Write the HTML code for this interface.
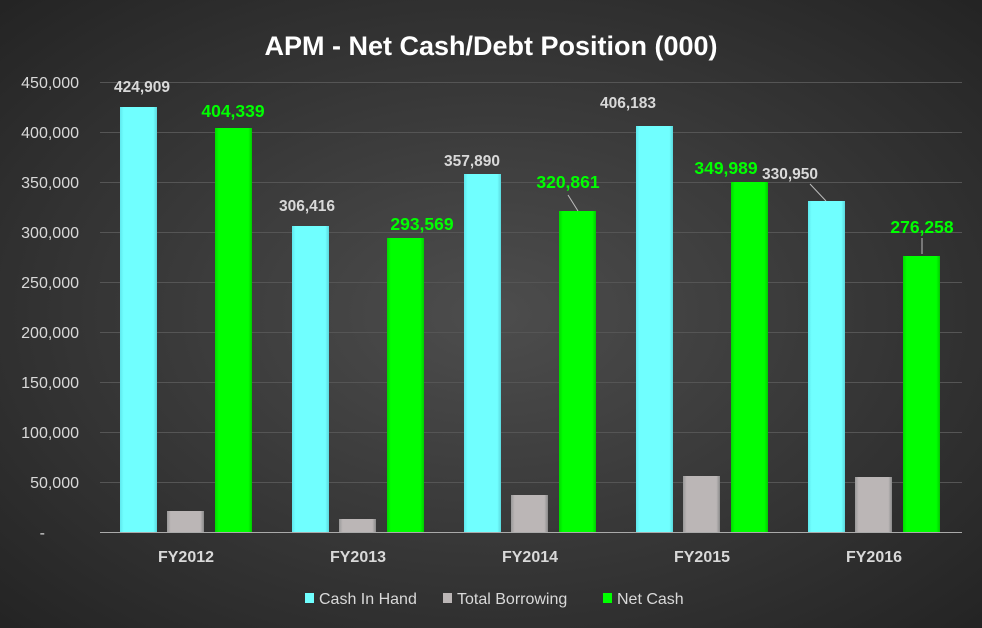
<!DOCTYPE html><html><head><style>body{margin:0;background:#333;overflow:hidden}svg{display:block}</style></head><body>
<svg width="982" height="628" xmlns="http://www.w3.org/2000/svg" font-family="Liberation Sans, sans-serif">
<defs>
<radialGradient id="bg" cx="50%" cy="50%" r="70%"><stop offset="0" stop-color="#4d4d4d"/><stop offset="1" stop-color="#242424"/></radialGradient>
<linearGradient id="cy" x1="0" x2="1"><stop offset="0" stop-color="#5fe8ee"/><stop offset="0.1" stop-color="#70ffff"/><stop offset="0.9" stop-color="#70ffff"/><stop offset="1" stop-color="#5ad8dd"/></linearGradient>
<linearGradient id="gr" x1="0" x2="1"><stop offset="0" stop-color="#00d800"/><stop offset="0.1" stop-color="#00ff00"/><stop offset="0.9" stop-color="#00ff00"/><stop offset="1" stop-color="#00cc00"/></linearGradient>
<linearGradient id="gy" x1="0" x2="1"><stop offset="0" stop-color="#999"/><stop offset="0.1" stop-color="#bbb6b6"/><stop offset="0.9" stop-color="#bbb6b6"/><stop offset="1" stop-color="#8a8a8a"/></linearGradient>
</defs>
<rect width="982" height="628" fill="url(#bg)"/>
<text x="491" y="55" text-anchor="middle" fill="#fff" font-size="27" font-weight="bold">APM - Net Cash/Debt Position (000)</text>
<g stroke="#555" stroke-width="1">
<line x1="100" x2="962" y1="82.5" y2="82.5"/><line x1="100" x2="962" y1="132.5" y2="132.5"/><line x1="100" x2="962" y1="182.5" y2="182.5"/><line x1="100" x2="962" y1="232.5" y2="232.5"/><line x1="100" x2="962" y1="282.5" y2="282.5"/><line x1="100" x2="962" y1="332.5" y2="332.5"/><line x1="100" x2="962" y1="382.5" y2="382.5"/><line x1="100" x2="962" y1="432.5" y2="432.5"/><line x1="100" x2="962" y1="482.5" y2="482.5"/>
</g>
<g fill="#d9d9d9" font-size="16" text-anchor="end">
<text x="79" y="88">450,000</text><text x="79" y="138">400,000</text><text x="79" y="188">350,000</text><text x="79" y="238">300,000</text><text x="79" y="288">250,000</text><text x="79" y="338">200,000</text><text x="79" y="388">150,000</text><text x="79" y="438">100,000</text><text x="79" y="488">50,000</text><text x="45" y="538">-</text>
</g>
<g>
<rect x="120" y="107" width="37" height="425" fill="url(#cy)"/><rect x="167" y="511" width="37" height="21" fill="url(#gy)"/><rect x="215" y="128" width="37" height="404" fill="url(#gr)"/>
<rect x="292" y="226" width="37" height="306" fill="url(#cy)"/><rect x="339" y="519" width="37" height="13" fill="url(#gy)"/><rect x="387" y="238" width="37" height="294" fill="url(#gr)"/>
<rect x="464" y="174" width="37" height="358" fill="url(#cy)"/><rect x="511" y="495" width="37" height="37" fill="url(#gy)"/><rect x="559" y="211" width="37" height="321" fill="url(#gr)"/>
<rect x="636" y="126" width="37" height="406" fill="url(#cy)"/><rect x="683" y="476" width="37" height="56" fill="url(#gy)"/><rect x="731" y="182" width="37" height="350" fill="url(#gr)"/>
<rect x="808" y="201" width="37" height="331" fill="url(#cy)"/><rect x="855" y="477" width="37" height="55" fill="url(#gy)"/><rect x="903" y="256" width="37" height="276" fill="url(#gr)"/>
</g>
<line x1="100" x2="962" y1="532.5" y2="532.5" stroke="#aaa"/>
<g stroke="#bbb" fill="none"><path d="M568 195 L578 211"/><path d="M810 184 L826 201"/><path d="M922 238 L922 254"/></g>
<g fill="#d9d9d9" font-size="15.5" font-weight="bold" text-anchor="middle">
<text x="142" y="92">424,909</text><text x="307" y="211">306,416</text><text x="472" y="166">357,890</text><text x="628" y="108">406,183</text><text x="790" y="179">330,950</text>
</g>
<g fill="#00ff00" font-size="17.5" font-weight="bold" text-anchor="middle">
<text x="233" y="117">404,339</text><text x="422" y="230">293,569</text><text x="568" y="188">320,861</text><text x="726" y="174">349,989</text><text x="922" y="233">276,258</text>
</g>
<g fill="#d9d9d9" font-size="16" font-weight="bold" text-anchor="middle">
<text x="186" y="562">FY2012</text><text x="358" y="562">FY2013</text><text x="530" y="562">FY2014</text><text x="702" y="562">FY2015</text><text x="874" y="562">FY2016</text>
</g>
<g font-size="16" fill="#d9d9d9">
<rect x="305" y="593" width="9" height="10" fill="#70ffff"/><text x="319" y="604">Cash In Hand</text>
<rect x="443" y="593" width="9" height="10" fill="#bbb6b6"/><text x="457" y="604">Total Borrowing</text>
<rect x="603" y="593" width="9" height="10" fill="#00ff00"/><text x="617" y="604">Net Cash</text>
</g>
</svg>
</body></html>
